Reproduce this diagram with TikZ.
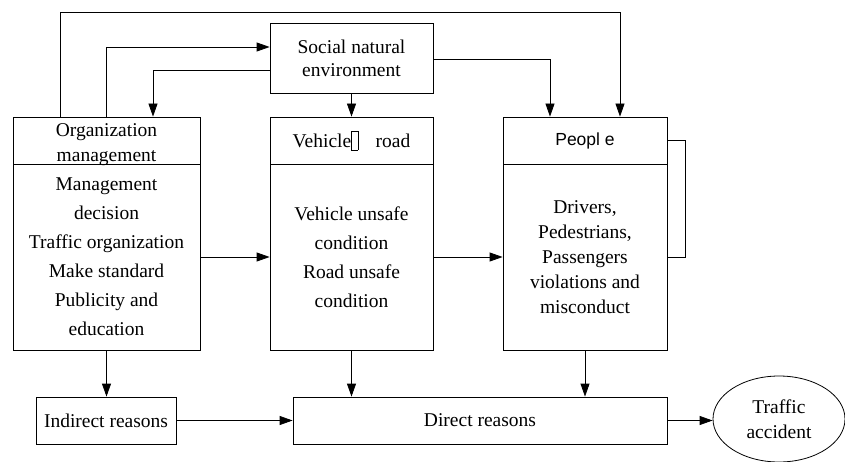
\documentclass[tikz,border=0pt]{standalone}
\usepackage{fontspec}
\setmainfont{Liberation Serif}
\newfontfamily\arialfont{Liberation Sans}
\usetikzlibrary{arrows.meta,shapes.geometric}
\begin{document}
\begin{tikzpicture}[x=1pt,y=-1pt,
  line width=0.8pt,
  arr/.style={-{Triangle[length=13pt,width=9pt]}},
  box/.style={draw,rectangle,inner sep=0pt,align=center,font=\fontsize{19.5}{29}\selectfont},
]
\useasboundingbox (0,0) rectangle (845,462);
\node[box,minimum width=163pt,minimum height=70pt,font=\fontsize{19.5}{23}\selectfont] (soc) at (351.5,58) {Social natural\\environment};
\node[box,minimum width=187pt,minimum height=47pt,font=\fontsize{19.5}{25}\selectfont] (orgh) at (106.5,140.5) {\raisebox{-9pt}[0pt][0pt]{\begin{tabular}{@{}c@{}}Organization\\management\end{tabular}}};
\node[box,minimum width=187pt,minimum height=186pt] (orgb) at (106.5,257) {Management\\decision\\Traffic organization\\Make standard\\Publicity and\\education};
\node[box,minimum width=163pt,minimum height=47pt] (vehh) at (351.5,140.5) {Vehicle{\setlength\fboxsep{0pt}\setlength\fboxrule{0.5pt}\raisebox{-0.3ex}{\fbox{\rule{0pt}{2.1ex}\hspace{0.3em}}}}\hspace{0.9em}road};
\node[box,minimum width=163pt,minimum height=186pt] (vehb) at (351.5,257) {Vehicle unsafe\\condition\\Road unsafe\\condition};
\node[box,minimum width=164pt,minimum height=47pt,font=\arialfont\fontsize{17.5}{20}\selectfont] (peoh) at (585,140.5) {Peopl e};
\node[box,minimum width=164pt,minimum height=186pt,font=\fontsize{19.5}{25}\selectfont] (peob) at (585,257) {Drivers,\\Pedestrians,\\Passengers\\violations and\\misconduct};
\node[box,minimum width=140pt,minimum height=47pt] (ind) at (106,420.5) {Indirect reasons};
\node[box,minimum width=374pt,minimum height=47pt] (dir) at (480,420.5) {Direct reasons};
\node[draw,ellipse,inner sep=0pt,minimum width=132pt,minimum height=86pt,align=center,font=\fontsize{19.5}{25}\selectfont] (acc) at (779,419) {Traffic\\accident};
\coordinate (ttop) at (620,12);
\draw[arr] ([xshift=-46.5pt]orgh.north) |- (ttop) -- ([xshift=35pt]peoh.north);
\draw[arr] ([xshift=-0.5pt]orgh.north) |- ([yshift=11pt]soc.west);
\draw[arr] ([yshift=-12pt]soc.west) -| ([xshift=46.5pt]orgh.north);
\draw[arr] ([yshift=-1pt]soc.east) -| ([xshift=-35pt]peoh.north);
\draw[arr] (soc.south) -- (vehh.north);
\draw[arr] (orgb.east) -- (vehb.west);
\draw[arr] (vehb.east) -- (peob.west);
\draw (peoh.east) -- ++(18,0) |- (peob.east);
\draw[arr] (orgb.south) -- (orgb.south |- ind.north);
\draw[arr] (vehb.south) -- (vehb.south |- dir.north);
\draw[arr] (peob.south) -- (peob.south |- dir.north);
\draw[arr] (ind.east) -- (dir.west);
\draw[arr] (dir.east) -- (dir.east -| acc.west);
\end{tikzpicture}
\end{document}
